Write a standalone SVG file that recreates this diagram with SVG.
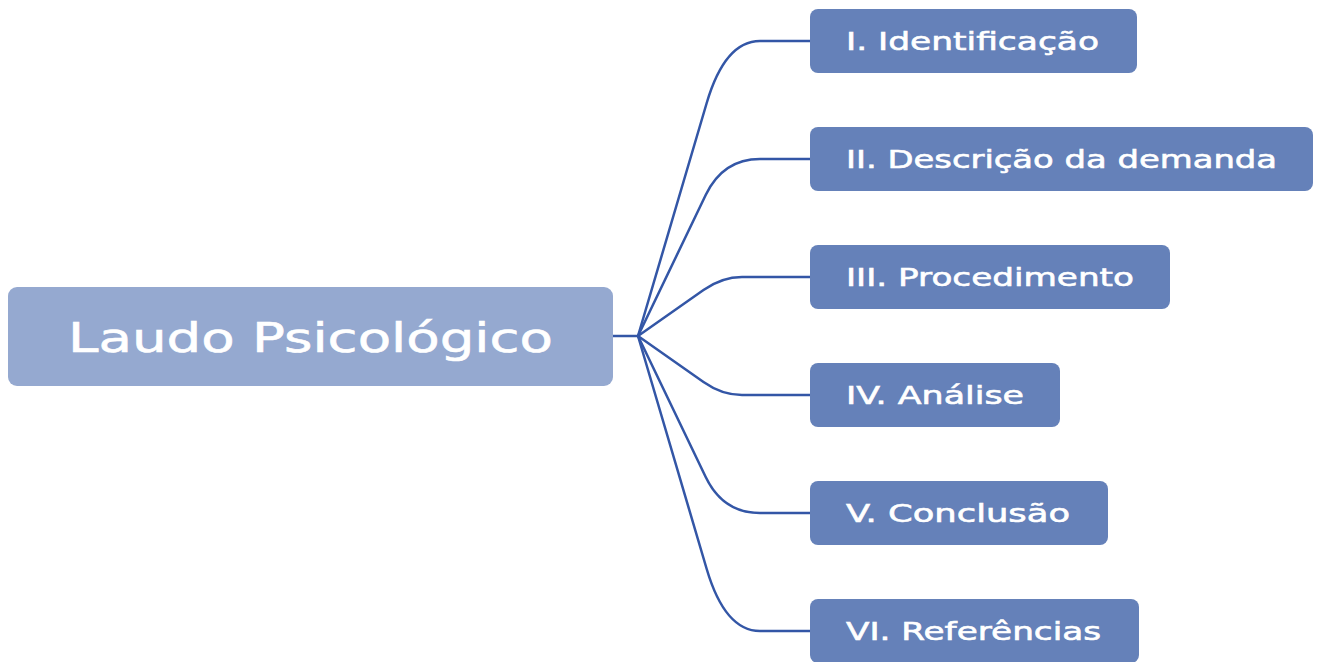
<svg xmlns="http://www.w3.org/2000/svg" width="1317" height="662" viewBox="0 0 1317 662">
<style>
.root{fill:#95a9d0}
.child{fill:#6581b9}
.rt{font-family:"DejaVu Sans","Liberation Sans",sans-serif;font-size:41px;fill:#fff;stroke:#fff;stroke-width:0.6}
.ct{font-family:"DejaVu Sans","Liberation Sans",sans-serif;font-size:25px;fill:#fff;stroke:#fff;stroke-width:0.6}
.edge{fill:none;stroke:#3356a6;stroke-width:2.5;stroke-linejoin:round}
</style>
<rect width="1317" height="662" fill="#fff"/>
<g id="connectors">
<path class="edge" d="M612,336 H638"/>
<path class="edge" d="M638,336 L706.7,103 Q725,41 760,41 H810"/>
<path class="edge" d="M638,336 L705.7,195 Q723,159 760,159 H810"/>
<path class="edge" d="M638,336 L703.5,290 Q722,277 742,277 H810"/>
<path class="edge" d="M638,336 L703.5,382 Q722,395 742,395 H810"/>
<path class="edge" d="M638,336 L705.7,477 Q723,513 760,513 H810"/>
<path class="edge" d="M638,336 L706.7,569 Q725,631 760,631 H810"/>
</g>
<g id="root"><rect class="root" x="8" y="287" width="605" height="99" rx="9"/><text class="rt" x="68" y="352" textLength="485" lengthAdjust="spacingAndGlyphs">Laudo Psicológico</text></g>
<g id="n1"><rect class="child" x="810" y="9" width="327" height="64" rx="8"/><text class="ct" x="846" y="50" textLength="253" lengthAdjust="spacingAndGlyphs">I. Identificação</text></g>
<g id="n2"><rect class="child" x="810" y="127" width="503" height="64" rx="8"/><text class="ct" x="846" y="168" textLength="431" lengthAdjust="spacingAndGlyphs">II. Descrição da demanda</text></g>
<g id="n3"><rect class="child" x="810" y="245" width="360" height="64" rx="8"/><text class="ct" x="846" y="286" textLength="288" lengthAdjust="spacingAndGlyphs">III. Procedimento</text></g>
<g id="n4"><rect class="child" x="810" y="363" width="250" height="64" rx="8"/><text class="ct" x="846" y="404" textLength="178" lengthAdjust="spacingAndGlyphs">IV. Análise</text></g>
<g id="n5"><rect class="child" x="810" y="481" width="298" height="64" rx="8"/><text class="ct" x="846" y="522" textLength="224" lengthAdjust="spacingAndGlyphs">V. Conclusão</text></g>
<g id="n6"><rect class="child" x="810" y="599" width="329" height="64" rx="8"/><text class="ct" x="846" y="640" textLength="255" lengthAdjust="spacingAndGlyphs">VI. Referências</text></g>
</svg>
